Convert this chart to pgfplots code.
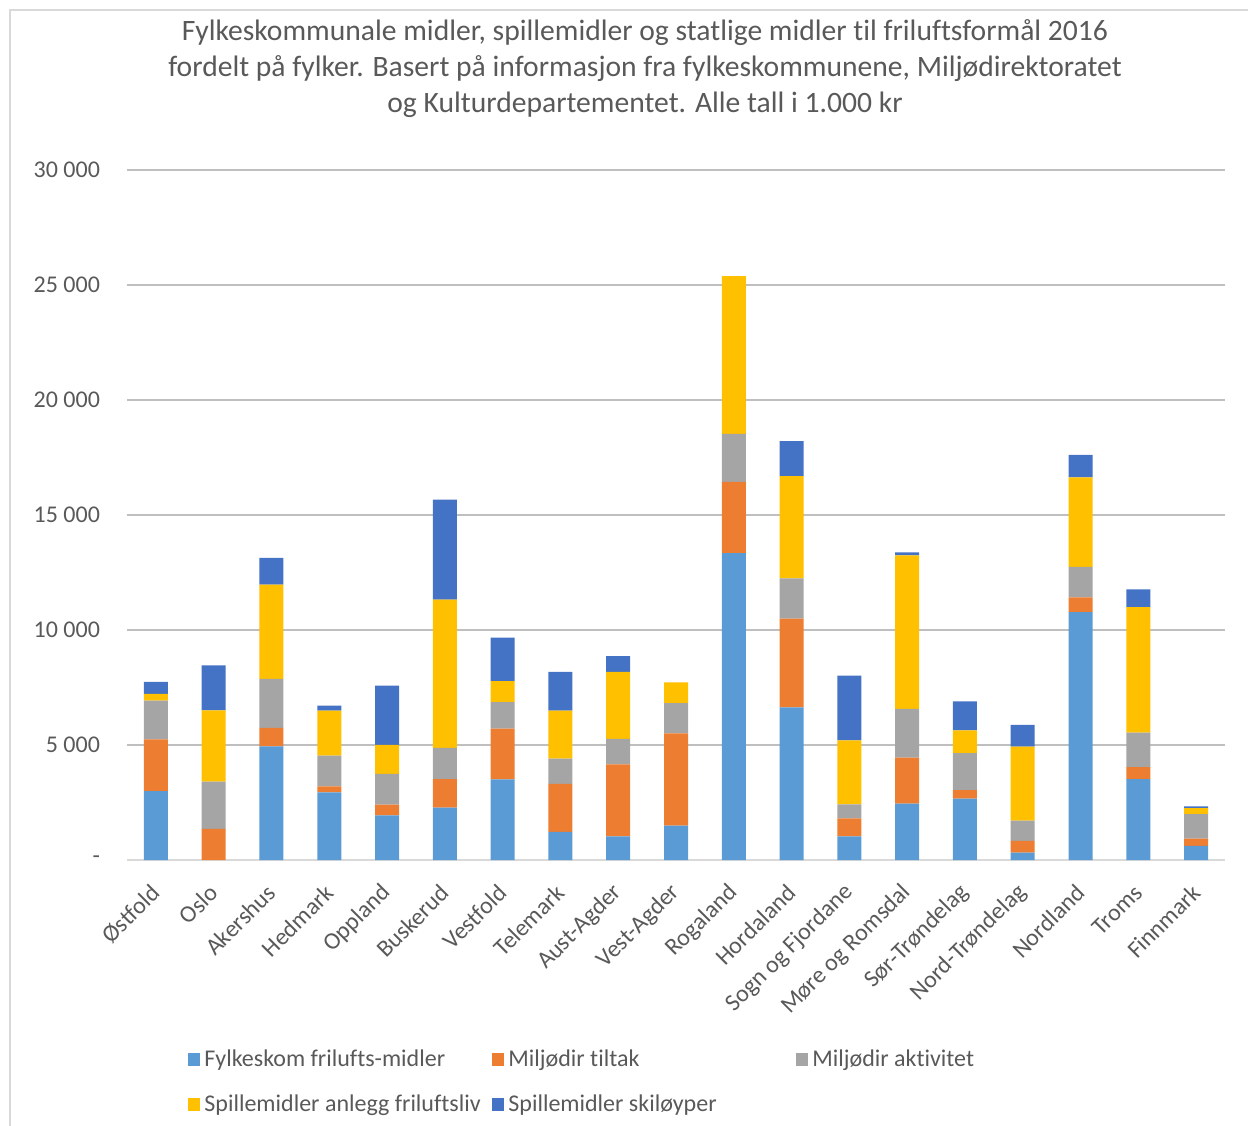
\documentclass[border=0pt]{standalone}
\usepackage{pgfplots}
\pgfplotsset{compat=1.18}
\usepackage{pgfplotstable}
\usepackage{fontspec}
\setmainfont[Ligatures=NoCommon]{Carlito}
\definecolor{cA}{HTML}{5B9BD5}
\definecolor{cB}{HTML}{ED7D31}
\definecolor{cC}{HTML}{A5A5A5}
\definecolor{cD}{HTML}{FFC000}
\definecolor{cE}{HTML}{4472C4}
\definecolor{txt}{HTML}{595959}
\definecolor{grid}{HTML}{D9D9D9}

% columns: fylkeskom, tiltak, aktivitet, anlegg, skiloyper (1000 kr)
\pgfplotstableread{
x  a     b     c     d     e
0  3000  2250  1680  290   520
1  0     1350  2060  3100  1950
2  4940  810   2130  4090  1170
3  2940  260   1340  1950  220
4  1940  470   1340  1260  2570
5  2280  1240  1360  6440  4350
6  3510  2200  1150  920   1890
7  1220  2090  1100  2090  1680
8  1030  3130  1110  2910  690
9  1490  4020  1310  900   0
10 13340 3100  2090  6860  0
11 6640  3850  1760  4440  1520
12 1030  780   610   2780  2820
13 2450  2000  2120  6680  130
14 2670  370   1610  990   1260
15 320   510   880   3220  950
16 10780 640   1320  3900  970
17 3520  520   1500  5460  770
18 610   320   1060  270   70
}\data

\begin{document}
\begin{tikzpicture}
\path[use as bounding box] (0,0) rectangle (624bp,-563bp);
\draw[grid, line width=1bp] (5bp,-563bp) -- (5bp,-5bp) -- (624bp,-5bp);
\node[text=txt, align=center, font=\fontsize{14.8bp}{18bp}\selectfont] at (322.5bp,-34.5bp)
  {Fylkeskommunale midler, spillemidler og statlige midler til friluftsformål 2016\\
   fordelt på fylker. Basert på informasjon fra fylkeskommunene, Miljødirektoratet\\
   og Kulturdepartementet. Alle tall i 1.000 kr};
\begin{axis}[
  at={(63.5bp,-430bp)}, anchor=south west,
  scale only axis, width=549bp, height=345bp,
  ybar stacked, bar width=12bp,
  xmin=-0.5, xmax=18.5, ymin=0, ymax=30000,
  scaled y ticks=false,
  axis x line*=bottom, axis y line*=left,
  x axis line style={grid, line width=1bp},
  y axis line style={draw=none},
  xmajorgrids=false, ymajorgrids=true,
  major grid style={grid, line width=1bp},
  tick style={draw=none},
  ytick={0,5000,10000,15000,20000,25000,30000},
  yticklabels={-\hspace{5.5bp},5 000,10 000,15 000,20 000,25 000,30 000},
  xtick={0,...,18},
  xticklabels={Østfold,Oslo,Akershus,Hedmark,Oppland,Buskerud,Vestfold,Telemark,Aust-Agder,Vest-Agder,Rogaland,Hordaland,Sogn og Fjordane,Møre og Romsdal,Sør-Trøndelag,Nord-Trøndelag,Nordland,Troms,Finnmark},
  xticklabel style={xshift=2.5bp, yshift=-12bp, rotate=45, anchor=east, font=\fontsize{12bp}{14bp}\selectfont, text=txt},
  yticklabel style={font=\fontsize{12bp}{14bp}\selectfont, text=txt, xshift=-10bp},
  legend style={at={(0.0556,-0.2681)}, anchor=north west, draw=none, fill=none,
    legend columns=3, font=\fontsize{12bp}{14bp}\selectfont, text=txt,
    row sep=9bp, inner sep=0pt, column sep=0pt,
    cells={anchor=west}},
  legend cell align=left,
  legend image code/.code={\fill[#1] (0bp,-3.2bp) rectangle (6bp,3.2bp);},
]
\addplot[fill=cA, draw=none] table[x=x, y=a] {\data};
\addplot[fill=cB, draw=none] table[x=x, y=b] {\data};
\addplot[fill=cC, draw=none] table[x=x, y=c] {\data};
\addplot[fill=cD, draw=none] table[x=x, y=d] {\data};
\addplot[fill=cE, draw=none] table[x=x, y=e] {\data};
\legend{\makebox[142bp][l]{Fylkeskom frilufts-midler},
        \makebox[142bp][l]{Miljødir tiltak},
        \makebox[142bp][l]{Miljødir aktivitet},
        \makebox[142bp][l]{Spillemidler anlegg friluftsliv},
        \makebox[142bp][l]{Spillemidler skiløyper}}
\end{axis}
\end{tikzpicture}
\end{document}
